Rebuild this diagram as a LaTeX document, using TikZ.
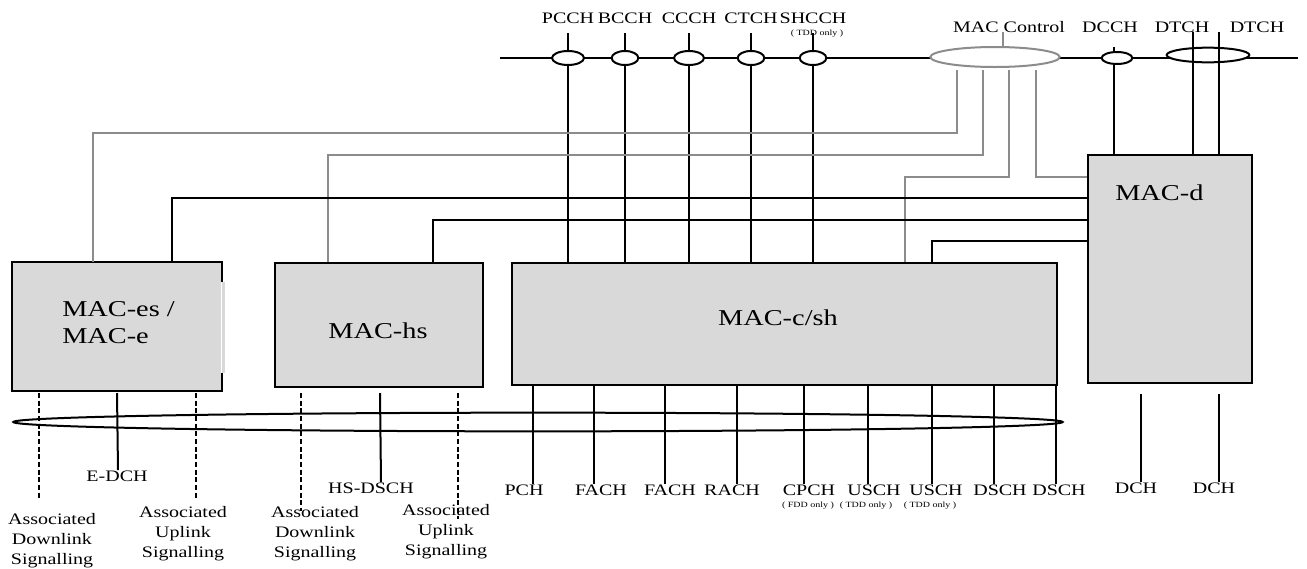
\documentclass[tikz,border=0pt]{standalone}
\usepackage{fontspec}
\setmainfont{Liberation Serif}[FakeStretch=1.25]
\usetikzlibrary{shapes.geometric,fit,calc}

\begin{document}
\begin{tikzpicture}[x=0.75pt, y=-0.75pt,
		macbox/.style={fill=black!15, draw=black, line width=1.5pt, inner sep=0pt},
		chline/.style={black, line width=1.5pt},
		ctrl/.style={black!45, line width=1.5pt},
		sig/.style={black, line width=1.5pt, dash pattern=on 3.75pt off 2pt},
		chell/.style={ellipse, draw, fill=white, line width=1.5pt, inner sep=0pt},
		lbl/.style={font=\fontsize{12}{15}\selectfont, inner sep=0pt},
		note/.style={font=\fontsize{6}{7}\selectfont, inner sep=0pt},
		maclbl/.style={font=\fontsize{17}{20}\selectfont, inner sep=0pt}]
	\useasboundingbox (0,0) rectangle (1307,568);

	% MAC entities
	\node[macbox, draw=none, fit={(13,263) (221,390)}] (maces) {};
	\fill[black!15] ($(maces.north east)+(0,20)$) rectangle ($(maces.south east)+(3,-18)$);
	\draw[line width=1.5pt] ($(maces.north east)+(0,20)$) -- (maces.north east) -- (maces.north west)
		-- (maces.south west) -- (maces.south east) -- ++(0,-18);
	\node[macbox, fit={(275,263) (483,387)}] (mahs) {};
	\node[macbox, fit={(512,263) (1057,385)}] (csh) {};
	\node[macbox, fit={(1088,155) (1252,383)}] (macd) {};

	\node[maclbl, anchor=base west] (maces-t1) at (62,316) {MAC-es /};
	\node[maclbl, anchor=base west] (maces-t2) at (62,343) {MAC-e};
	\node[maclbl, anchor=base] (mahs-t) at (378,338) {MAC-hs};
	\node[maclbl, anchor=base] (csh-t) at (778,325) {MAC-c/sh};
	\node[maclbl, anchor=base west] (macd-t) at (1115,200) {MAC-d};

	% logical channels
	\coordinate (busl) at (500,58);
	\coordinate (busr) at (1298,58);
	\draw[chline] (busl) -- (busr);

	\foreach \n/\x/\w/\t in {pcch/568/24pt/PCCH, bcch/625/20pt/BCCH, ccch/689/22.5pt/CCCH, ctch/751/20pt/CTCH, shcch/813/20pt/SHCCH} {
		\node[lbl, anchor=base] (\n-t) at (\x,23) {\t};
		\draw[chline, shorten <=7.5pt] (\n-t.south) -- (\n-t.south |- csh.north);
		\node[chell, minimum width=\w, minimum height=10.5pt] (\n) at (\x,58) {};
	}
	\node[note, anchor=base] (shcch-n) at (817,35) {( TDD only )};

	\coordinate (dcch-top) at (1114,47);
	\draw[chline] (dcch-top) -- (dcch-top |- macd.north);
	\node[chell, minimum width=23pt, minimum height=9pt] (dcch) at (1117,58) {};
	\node[lbl, anchor=base] (dcch-t) at (1110,32) {DCCH};

	\node[chell, minimum width=62pt, minimum height=11pt] (dtch) at (1208,55) {};
	\coordinate (dtch-a) at (1193,32);
	\coordinate (dtch-b) at (1219,32);
	\draw[chline] (dtch-a) -- (dtch-a |- macd.north);
	\draw[chline] (dtch-b) -- (dtch-b |- macd.north);
	\node[lbl, anchor=base] (dtch-t1) at (1182,32) {DTCH};
	\node[lbl, anchor=base] (dtch-t2) at (1257,32) {DTCH};

	% MAC control
	\node[chell, draw=black!45, minimum width=97pt, minimum height=15pt] (mctrl) at (995,57) {};
	\node[lbl, anchor=base] (mctrl-t) at (1009,32) {MAC Control};
	\draw[ctrl] ($(mctrl.north)+(8,0)$) -- ++(0,-14);
	\draw[ctrl] ($(mctrl.south)+(-38,2)$) |- (93,133) -- (93,0 |- maces.north);
	\draw[ctrl] ($(mctrl.south)+(-12,2)$) |- (328,155) -- (328,0 |- mahs.north);
	\draw[ctrl] ($(mctrl.south)+(14,2)$) |- (905,177) -- (905,0 |- csh.north);
	\draw[ctrl] ($(mctrl.south)+(41,2)$) |- (macd.west |- 0,177);

	% MAC-d to the other entities
	\draw[chline] (macd.west |- 0,198) -| (172,0 |- maces.north);
	\draw[chline] (macd.west |- 0,220) -| (433,0 |- mahs.north);
	\draw[chline] (macd.west |- 0,241) -| (932,0 |- csh.north);

	% transport channels
	\node[ellipse, draw, line width=1.5pt, inner sep=0pt, minimum width=787pt, minimum height=14pt] (trch) at (538,422) {};

	\node[lbl, anchor=base] (edch) at (117,481) {E-DCH};
	\draw[chline] (maces.south west) ++(105,2) -- (118,0 |- edch.north);
	\draw[sig] (maces.south west) ++(27,2) -- ++(0,105);
	\draw[sig] (maces.south west) ++(184,2) -- ++(0,105);

	\node[lbl, anchor=base] (hsdsch) at (371,493) {HS-DSCH};
	\draw[chline] (mahs.south west) ++(106,5) -- (381,0 |- hsdsch.north);
	\draw[sig] (mahs.south west) ++(27,5) -- ++(0,118);
	\draw[sig] (mahs.south west) ++(184,5) -- ++(0,126);

	\foreach \x/\l/\t in {533/524/PCH, 594/601/FACH, 665/670/FACH, 737/732/RACH, 804/809/CPCH, 868/874/USCH, 932/936/USCH, 994/1000/DSCH, 1056/1059/DSCH} {
		\node[lbl, anchor=base] (b\x) at (\l,495) {\t};
		\draw[chline] (\x,0 |- csh.south) -- (\x,0 |- b\x.north);
	}
	\node[note, anchor=base] (cpch-n) at (808,507) {( FDD only )};
	\node[note, anchor=base] (usch-n1) at (866,507) {( TDD only )};
	\node[note, anchor=base] (usch-n2) at (930,507) {( TDD only )};

	\node[lbl, anchor=base] (dch1) at (1136,493) {DCH};
	\node[lbl, anchor=base] (dch2) at (1214,493) {DCH};
	\draw[chline] (macd.south) ++(-29,10) -- (1141,0 |- dch1.north);
	\draw[chline] (macd.south) ++(49,10) -- (1219,0 |- dch2.north);

	% associated signalling
	\node[lbl, anchor=north, align=center] (dl1) at (52,513) {Associated\\Downlink\\Signalling};
	\node[lbl, anchor=north, align=center] (ul1) at (183,506) {Associated\\Uplink\\Signalling};
	\node[lbl, anchor=north, align=center] (dl2) at (315,506) {Associated\\Downlink\\Signalling};
	\node[lbl, anchor=north, align=center] (ul2) at (446,504) {Associated\\Uplink\\Signalling};
\end{tikzpicture}
\end{document}
